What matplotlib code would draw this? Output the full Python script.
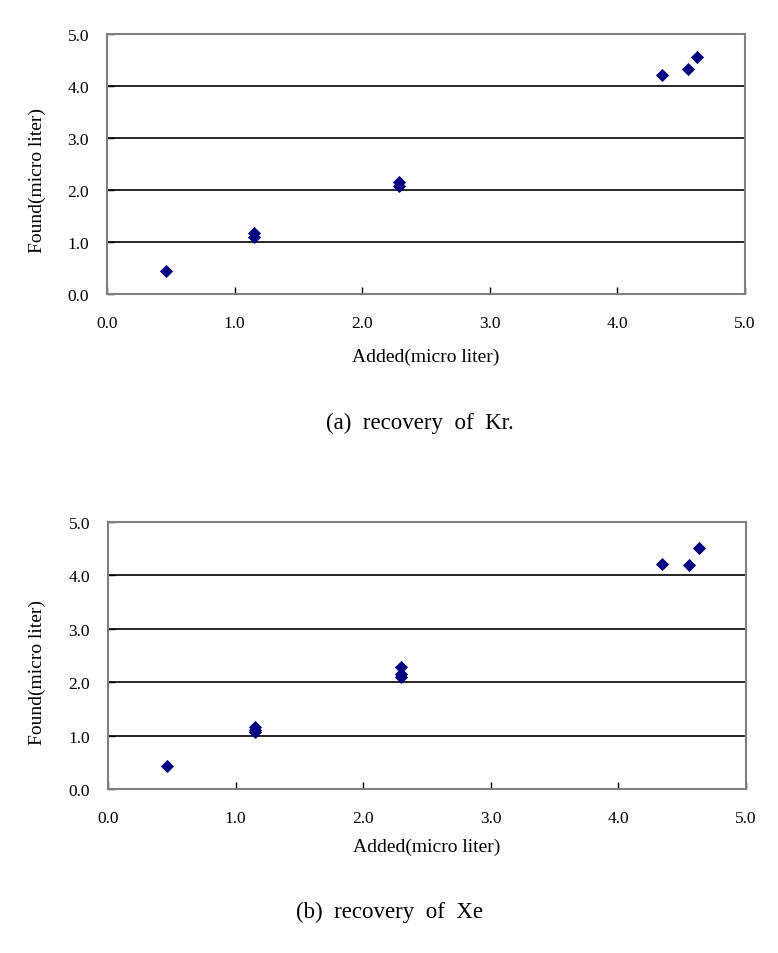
import matplotlib
matplotlib.use("Agg")
import matplotlib.pyplot as plt

plt.rcParams['font.family'] = ['Liberation Serif', 'DejaVu Serif']

# (a) Kr recovery
kr_added = [0.46, 1.15, 1.15, 2.29, 2.29, 4.35, 4.55, 4.62]
kr_found = [0.45, 1.17, 1.09, 2.15, 2.07, 4.22, 4.33, 4.56]

# (b) Xe recovery
xe_added = [0.46, 1.15, 1.15, 1.15, 2.30, 2.30, 2.30, 4.34, 4.55, 4.63]
xe_found = [0.43, 1.16, 1.11, 1.07, 2.29, 2.15, 2.10, 4.22, 4.19, 4.52]

ticks = [0.0, 1.0, 2.0, 3.0, 4.0, 5.0]
tick_labels = ['0.0', '1.0', '2.0', '3.0', '4.0', '5.0']
xlabel = 'Added(micro liter)'
ylabel = 'Found(micro liter)'
captions = ['(a)  recovery  of  Kr.', '(b)  recovery  of  Xe']

W, H = 778, 954
fig = plt.figure(figsize=(W / 100, H / 100), dpi=100)

# axes boxes in pixels: left, top, right, bottom
boxes = [(107, 35, 745, 295), (108, 523, 746, 790)]
cap_y = [423, 912]
cap_x = [420, 390]
xlab_y = [357, 847]
data = [(kr_added, kr_found), (xe_added, xe_found)]

for (l, t, r, b), (xs, ys), cy, cx, cap, xly in zip(boxes, data, cap_y, cap_x, captions, xlab_y):
    ax = fig.add_axes([l / W, 1 - b / H, (r - l) / W, (b - t) / H])
    ax.set_xlim(0, 5)
    ax.set_ylim(0, 5)
    for yv in ticks[1:-1]:
        ax.axhline(yv, color='black', lw=1.2, zorder=1)
    ax.scatter(xs, ys, marker='D', s=45, color='#000080', zorder=3, linewidths=0)
    ax.set_xticks(ticks)
    ax.set_xticklabels(tick_labels)
    ax.set_yticks(ticks)
    ax.set_yticklabels(tick_labels)
    ax.tick_params(direction='in', length=5, width=1, labelsize=12.5, color='black')
    ax.tick_params(axis='x', pad=15)
    ax.tick_params(axis='y', pad=13)
    for s in ax.spines.values():
        s.set_color('#808080')
        s.set_linewidth(1.5)
    ax.set_xlabel(xlabel, fontsize=14, va='center')
    ax.xaxis.set_label_coords(0.5, (b - xly) / (b - t))
    ax.set_ylabel(ylabel, fontsize=14, va='center')
    ax.yaxis.set_label_coords((37 - l) / (r - l), 0.44)
    fig.text(cx / W, 1 - cy / H, cap, fontsize=16.5, ha='center', va='center')

fig.savefig('out.png', dpi=100, facecolor='white')
